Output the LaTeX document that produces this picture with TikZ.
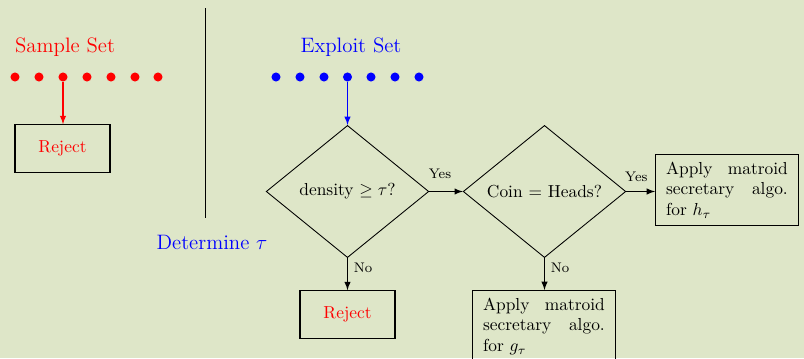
\documentclass[tikz,border=0pt]{standalone}
\usepackage{amsmath, amssymb}
\usepackage{color}
\usetikzlibrary{arrows, shapes.geometric, positioning}

\definecolor{paper}{RGB}{222,230,200}

\tikzset{
	decision/.style={draw, line width=0.5pt, shape=diamond, aspect=1.22, inner sep=0pt, minimum width=93.5pt, minimum height=76pt},
	algobox/.style={draw, line width=0.7pt, text width=70pt, align=justify, inner xsep=6pt, inner ysep=4pt},
	rejectbox/.style={draw, line width=0.7pt, text=red, minimum width=54.6pt, minimum height=27.3pt},
	setdot/.style={circle, fill=#1, inner sep=0pt, minimum size=5.2pt},
	flow/.style={->, line width=0.65pt},
	tag/.style={font=\footnotesize}
}

\begin{document}
\begin{tikzpicture}[x=0.575pt, y=-0.575pt, >=latex]
		\useasboundingbox (0,0) rectangle (804,358);
		\clip (0,0) rectangle (804,358);
		\fill [paper] (0,0) rectangle (804,358);
		%sample set
			\node [red, font=\large] (sampletitle) at (65,47) {Sample Set};
			\foreach \x [count=\i] in {15,39,63,87,111,135,158}
				\node [setdot=red] (s\i) at (\x,77) {};
			\node [rejectbox] (rejecta) at (62.5,148.5) {Reject};
			\draw [flow, red] (s3) -- (s3 |- rejecta.north);
		%divider
			\draw [line width=0.5pt] (205,8) to (205,218);
			\node [blue, font=\large] (determine) at (212,242) {Determine $\tau$};
		%exploit set
			\node [blue, font=\large] (exploittitle) at (351,47) {Exploit Set};
			\foreach \x [count=\i] in {276,300,324,347.5,371,395,419}
				\node [setdot=blue] (e\i) at (\x,77) {};
			% decisions
			\node [decision] (density) at (347.5,191.5) {density $\geq \tau$?};
			\node [decision] (coin) at (544.5,191.5) {Coin $=$ Heads?};
			\draw [flow, blue] (e4) -- (density.north);
			% outcomes
			\node [rejectbox] (rejectb) at (347.5,314.5) {Reject};
			\node [algobox, anchor=north west] (hbox) at (655,154) {Apply matroid secretary algo. for $h_\tau$};
			\node [algobox, anchor=north west] (gbox) at (472,290) {Apply matroid secretary algo. for $g_\tau$};
			%arrows
			\draw [flow] (density.east) -- node [tag, above=4pt, pos=0.32] {Yes} (coin.west);
			\draw [flow] (coin.east) -- node [tag, above=2pt, pos=0.35] {Yes} (coin.east -| hbox.west);
			\draw [flow] (density.south) -- node [tag, right, pos=0.3] {No} (rejectb.north);
			\draw [flow] (coin.south) -- node [tag, right, pos=0.3] {No} (coin.south |- gbox.north);
		\end{tikzpicture}
\end{document}
